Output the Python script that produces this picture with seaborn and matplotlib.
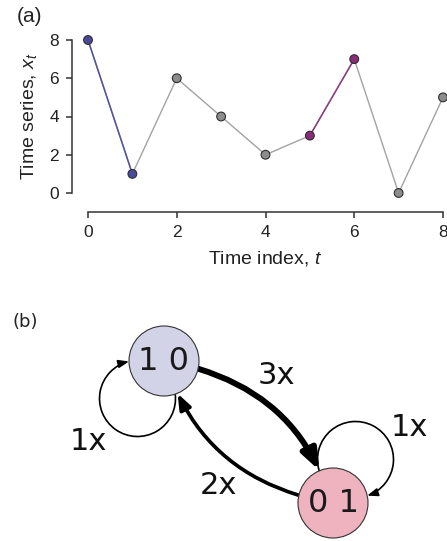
import numpy as np
import matplotlib
matplotlib.use("Agg")
import matplotlib.pyplot as plt
import seaborn as sns
import pandas as pd
from matplotlib.patches import Circle, FancyArrowPatch
from matplotlib.path import Path
from matplotlib.transforms import Affine2D

# ---- time series ----
time_index = [0, 1, 2, 3, 4, 5, 6, 7, 8]
values = [8, 1, 6, 4, 2, 3, 7, 0, 5]
pattern_down = [0, 1]   # window showing ordinal pattern "1 0"
pattern_up = [5, 6]     # window showing ordinal pattern "0 1"

# ---- transition network ----
states = ["1 0", "0 1"]
transitions = [("1 0", "1 0", 1), ("1 0", "0 1", 3), ("0 1", "1 0", 2), ("0 1", "0 1", 1)]

sns.set_style("ticks")
plt.rcParams["font.family"] = ["Liberation Sans", "DejaVu Sans"]
plt.rcParams["mathtext.fontset"] = "custom"
plt.rcParams["mathtext.rm"] = "Liberation Sans"
plt.rcParams["mathtext.it"] = "Liberation Sans:italic"

W, H = 447, 541
fig = plt.figure(figsize=(W / 100, H / 100), dpi=100)

df = pd.DataFrame({"t": time_index, "x": values})
blue_face, purple_face = "#4a4a9c", "#8a2c79"

ax = fig.add_axes([88 / W, 1 - 193 / H, 355 / W, 153 / H])
sns.lineplot(data=df, x="t", y="x", ax=ax, color="#a3a3a3", lw=1.0, clip_on=False)
sns.lineplot(data=df.iloc[pattern_down], x="t", y="x", ax=ax, color="#5252a3", lw=1.1, clip_on=False)
sns.lineplot(data=df.iloc[pattern_up], x="t", y="x", ax=ax, color="#8f3a82", lw=1.1, clip_on=False)

face = ["#8c8c8c"] * len(df)
for i in pattern_down:
    face[i] = blue_face
for i in pattern_up:
    face[i] = purple_face
ax.scatter(df["t"], df["x"], s=40, c=face, edgecolors="#2e2e2e", linewidths=0.8,
           zorder=3, clip_on=False)

ax.set_xlim(0, 8)
ax.set_ylim(0, 8)
ax.set_xticks([0, 2, 4, 6, 8])
ax.set_yticks([0, 2, 4, 6, 8])
for s in ["top", "right"]:
    ax.spines[s].set_visible(False)
ax.spines["left"].set_position(("outward", 11.5))
ax.spines["bottom"].set_position(("outward", 13.7))
ax.spines["left"].set_bounds(0, 8)
ax.spines["bottom"].set_bounds(0, 8)
for s in ["left", "bottom"]:
    ax.spines[s].set_linewidth(1.1)
    ax.spines[s].set_color("#333333")
ax.tick_params(length=4.5, width=1.1, color="#333333", labelsize=12.5,
               labelcolor="#222222", pad=5)
ax.set_xlabel("Time index, $t$", fontsize=14, color="#222222", labelpad=6)
ax.set_ylabel("Time series, $x_t$", fontsize=14, color="#222222", labelpad=7)
fig.text(17 / W, 1 - 16 / H, "(a)", fontsize=15, color="#222222", va="center", ha="left")

# ---- network panel, coordinates in pixels with y pointing up ----
gh = 241
gx = fig.add_axes([0, 0, 1, gh / H])
gx.set_xlim(0, W)
gx.set_ylim(0, gh)
gx.axis("off")

node_pos = {"1 0": (164, 180), "0 1": (333, 38)}
node_col = {"1 0": "#d3d3e7", "0 1": "#efb2bf"}
node_r = 35
loop_offset = {"1 0": (-26.5, -37.5), "0 1": (22.5, 43.5)}
loop_r = 38
label_pos = {("1 0", "1 0"): (88, 99), ("1 0", "0 1"): (276, 166),
             ("0 1", "1 0"): (218, 56), ("0 1", "0 1"): (409, 113)}

circles = {}
for s in states:
    c = Circle(node_pos[s], node_r, facecolor=node_col[s], edgecolor="#333333",
               lw=0.8, zorder=2)
    gx.add_patch(c)
    circles[s] = c
    gx.text(*node_pos[s], s, fontsize=23, family="DejaVu Sans", color="#1a1a1a",
            ha="center", va="center", zorder=3)

for a, b, w in transitions:
    lw = 1.2 * w ** 1.15
    hl, hw = 3.5 + 2.8 * w, 1.3 + 1.1 * w
    style = f"-|>,head_length={hl},head_width={hw}"
    if a == b:
        cx = node_pos[a][0] + loop_offset[a][0]
        cy = node_pos[a][1] + loop_offset[a][1]
        dx, dy = node_pos[a][0] - cx, node_pos[a][1] - cy
        d = np.hypot(dx, dy)
        base = np.degrees(np.arctan2(dy, dx))
        half = np.degrees(np.arccos((d ** 2 + loop_r ** 2 - node_r ** 2) / (2 * d * loop_r)))
        arc = Path.arc(base + half, base - half + 360)
        path = Affine2D().scale(loop_r).translate(cx, cy).transform_path(arc)
        arr = FancyArrowPatch(path=path, arrowstyle=style.replace("-|>", "<|-"),
                              lw=lw, color="black", zorder=1)
    else:
        arr = FancyArrowPatch(node_pos[a], node_pos[b], patchA=circles[a], patchB=circles[b],
                              connectionstyle="arc3,rad=-0.3", arrowstyle=style,
                              lw=lw, color="black", shrinkA=0, shrinkB=0, zorder=1)
    gx.add_patch(arr)
    gx.text(*label_pos[(a, b)], f"{w}x", fontsize=22, family="DejaVu Sans",
            color="#111111", ha="center", va="center")

fig.text(13 / W, 1 - 322 / H, "(b)", fontsize=13, family="DejaVu Sans",
         color="#222222", va="center", ha="left")

fig.savefig("out.png", dpi=100)
